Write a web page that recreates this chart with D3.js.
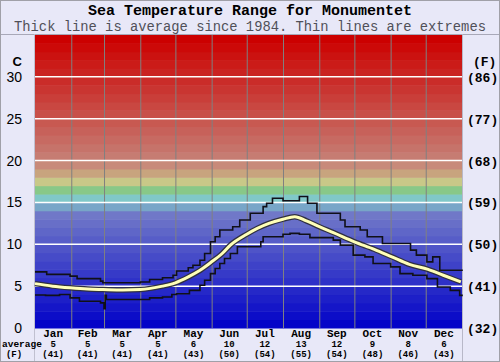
<!DOCTYPE html>
<html>
<head>
<meta charset="utf-8">
<script src="https://cdn.jsdelivr.net/npm/d3@7"></script>
<style>
  body { margin: 0; background: #e8e8f8; }
  svg { display: block; }
</style>
</head>
<body>
<div id="chart"></div>
<script>
const months = ['Jan', 'Feb', 'Mar', 'Apr', 'May', 'Jun', 'Jul', 'Aug', 'Sep', 'Oct', 'Nov', 'Dec'];
const monthDays = [31, 28, 31, 30, 31, 30, 31, 31, 30, 31, 30, 31];
const monthAvgC = [5, 5, 5, 5, 6, 10, 12, 13, 12, 9, 8, 6];
const monthAvgF = [41, 41, 41, 41, 43, 50, 54, 55, 54, 48, 46, 43];

const yTicksC = [0, 5, 10, 15, 20, 25, 30];
const yTicksF = ['(32)', '(41)', '(50)', '(59)', '(68)', '(77)', '(86)'];

// [day of year, deg C]
const avgLine = [
  [0, 5.3], [15, 5.0], [30, 4.8], [45, 4.65], [58, 4.6], [75, 4.55], [90, 4.6],
  [109, 5.0], [120, 5.4], [131, 6.1], [140, 6.8], [150, 7.8], [160, 8.9], [167, 9.9],
  [181, 11.2], [190, 11.9], [200, 12.5], [212, 13.0], [222, 13.3], [232, 12.8],
  [243, 12.1], [255, 11.4], [273, 10.3], [290, 9.4], [305, 8.5], [320, 7.6],
  [336, 7.0], [349, 6.3], [364, 5.5]
];
const maxLine = [
  [0, 6.7], [10, 6.4], [30, 6.2], [36, 5.9], [56, 5.6], [58, 5.4], [90, 5.5],
  [98, 5.8], [109, 6.0], [118, 6.3], [121, 6.8], [131, 7.2], [135, 7.5], [141, 8.1],
  [145, 8.9], [150, 10.3], [154, 10.9], [158, 11.7], [169, 12.1], [175, 12.9],
  [184, 13.7], [195, 14.5], [198, 14.9], [203, 15.5], [212, 15.2], [226, 15.7],
  [233, 14.9], [241, 13.7], [252, 13.7], [261, 12.9], [265, 12.1], [278, 11.7],
  [284, 10.9], [297, 10.1], [315, 10.1], [321, 9.3], [326, 8.7], [335, 7.9],
  [340, 8.5], [346, 6.9], [365, 6.8]
];
const minLine = [
  [0, 3.95], [9, 3.9], [21, 4.0], [30, 3.6], [38, 3.2], [56, 3.0], [59, 2.3],
  [60, 3.9], [61, 3.4], [90, 3.4], [98, 3.6], [109, 3.7], [117, 4.0], [121, 4.1],
  [132, 4.5], [141, 5.1], [145, 5.7], [150, 6.5], [154, 7.1], [158, 7.7], [162, 8.3],
  [167, 8.9], [173, 9.7], [193, 10.3], [195, 10.9], [212, 11.2], [218, 11.3],
  [226, 11.2], [235, 10.8], [255, 10.5], [261, 9.9], [272, 8.7], [282, 8.5],
  [289, 7.7], [304, 7.3], [312, 6.5], [323, 6.3], [335, 5.9], [344, 4.9],
  [355, 4.5], [363, 3.9], [365, 3.8]
];

const W = 500, H = 362;
const plot = { left: 35, right: 462, top: 35, bottom: 328 };

const svg = d3.select('#chart').append('svg')
  .attr('width', W)
  .attr('height', H)
  .style('font-family', '"Liberation Mono", "DejaVu Sans Mono", monospace');

svg.append('rect').attr('width', W).attr('height', H).attr('fill', '#e8e8f8');

const x = d3.scaleLinear().domain([0, 365]).range([plot.left, plot.right]);
const y = d3.scaleLinear().domain([0, 35]).range([plot.bottom, plot.top]);

// colour of each 1 degree band
const blue = d3.interpolateRgb('#0404c8', '#7078c8');
const red = d3.interpolateRgb('#c67c72', '#cc0000');
const special = { 14: '#78a6c8', 15: '#80c8c8', 16: '#88c888', 17: '#c8c888', 18: '#c8a47e', 19: '#c88a7a' };
function bandColor(t) {
  if (special[t]) return special[t];
  if (t < 14) return blue(t / 13);
  return red((t - 20) / 14);
}

svg.append('g')
  .selectAll('rect')
  .data(d3.range(0, 35))
  .join('rect')
  .attr('x', plot.left)
  .attr('width', plot.right - plot.left)
  .attr('y', d => y(d + 1))
  .attr('height', d => y(d) - y(d + 1) + 0.5)
  .attr('fill', d => bandColor(d));

// month boundaries
const monthStart = d3.cumsum([0].concat(monthDays)).slice(0, 12);
svg.append('g')
  .selectAll('line')
  .data(monthStart.slice(1))
  .join('line')
  .attr('x1', d => x(d) + 0.5)
  .attr('x2', d => x(d) + 0.5)
  .attr('y1', plot.top)
  .attr('y2', plot.bottom)
  .attr('stroke', '#808080')
  .attr('stroke-width', 1);

// horizontal white grid
svg.append('g')
  .selectAll('line')
  .data(yTicksC.slice(1))
  .join('line')
  .attr('x1', plot.left)
  .attr('x2', plot.right)
  .attr('y1', d => y(d))
  .attr('y2', d => y(d))
  .attr('stroke', '#ffffff')
  .attr('stroke-width', 1.5);

// frame lines
svg.append('line').attr('x1', 0).attr('x2', W).attr('y1', 34.5).attr('y2', 34.5).attr('stroke', '#a8a8b8');
svg.append('line').attr('x1', plot.left - 0.5).attr('x2', plot.left - 0.5).attr('y1', 34).attr('y2', H).attr('stroke', '#c0c0d0');
svg.append('line').attr('x1', plot.right + 0.5).attr('x2', plot.right + 0.5).attr('y1', 34).attr('y2', H).attr('stroke', '#b8b8c8');
svg.append('rect').attr('x', 0.5).attr('y', 0.5).attr('width', W - 1).attr('height', H - 1)
  .attr('fill', 'none').attr('stroke', '#a0a0a8');

const line = d3.line().x(d => x(d[0])).y(d => y(d[1]));
const stepLine = d3.line().x(d => x(d[0])).y(d => y(d[1])).curve(d3.curveStepAfter);

[maxLine, minLine].forEach(s => {
  svg.append('path')
    .attr('d', stepLine(s))
    .attr('fill', 'none')
    .attr('stroke', '#101018')
    .attr('stroke-width', 1.6);
});

const avgPath = line.curve(d3.curveMonotoneX)(avgLine);
svg.append('path').attr('d', avgPath).attr('fill', 'none')
  .attr('stroke', '#303040').attr('stroke-width', 5.5).attr('stroke-linejoin', 'round');
svg.append('path').attr('d', avgPath).attr('fill', 'none')
  .attr('stroke', '#ffffb8').attr('stroke-width', 3).attr('stroke-linejoin', 'round');

// titles
svg.append('text')
  .attr('x', W / 2).attr('y', 15)
  .attr('text-anchor', 'middle')
  .style('font-size', '15px').style('font-weight', 'bold').attr('fill', '#000')
  .text('Sea Temperature Range for Monumentet');
svg.append('text')
  .attr('x', W / 2).attr('y', 31)
  .attr('text-anchor', 'middle')
  .style('font-size', '13.8px').attr('fill', '#505058')
  .text('Thick line is average since 1984. Thin lines are extremes');

// left axis (C)
svg.append('g')
  .selectAll('text')
  .data(yTicksC)
  .join('text')
  .attr('x', 22)
  .attr('y', d => y(d) + 5)
  .attr('text-anchor', 'end')
  .style('font-family', '"Liberation Sans", Arial, sans-serif')
  .style('font-size', '14px')
  .attr('fill', '#000')
  .text(d => d);
svg.append('text').attr('x', 22).attr('y', 66).attr('text-anchor', 'end')
  .style('font-family', '"Liberation Sans", Arial, sans-serif')
  .style('font-size', '13px').style('font-weight', 'bold').text('C');

// right axis (F)
svg.append('g')
  .selectAll('text')
  .data(yTicksC)
  .join('text')
  .attr('x', 467)
  .attr('y', d => y(d) + 5)
  .style('font-size', '13px')
  .style('font-weight', 'bold')
  .attr('fill', '#000')
  .text((d, i) => yTicksF[i]);
svg.append('text').attr('x', 473).attr('y', 66)
  .style('font-size', '13px').style('font-weight', 'bold').text('(F)');

// month labels
const mid = monthStart.map((s, i) => s + monthDays[i] / 2);
const bottom = svg.append('g').attr('text-anchor', 'middle').attr('fill', '#000');
bottom.selectAll('text.m')
  .data(months)
  .join('text')
  .attr('class', 'm')
  .attr('x', (d, i) => x(mid[i]))
  .attr('y', 337)
  .style('font-size', '11px').style('font-weight', 'bold')
  .text(d => d);
bottom.selectAll('text.c')
  .data(monthAvgC)
  .join('text')
  .attr('class', 'c')
  .attr('x', (d, i) => x(mid[i]))
  .attr('y', 347)
  .style('font-size', '9px').style('font-weight', 'bold')
  .text(d => d);
bottom.selectAll('text.f')
  .data(monthAvgF)
  .join('text')
  .attr('class', 'f')
  .attr('x', (d, i) => x(mid[i]))
  .attr('y', 357)
  .style('font-size', '9px').style('font-weight', 'bold')
  .text(d => '(' + d + ')');
svg.append('text').attr('x', 2).attr('y', 347)
  .style('font-size', '9.5px').style('font-weight', 'bold').text('average');
svg.append('text').attr('x', 14).attr('y', 357).attr('text-anchor', 'middle')
  .style('font-size', '9px').style('font-weight', 'bold').text('(F)');
</script>
</body>
</html>
